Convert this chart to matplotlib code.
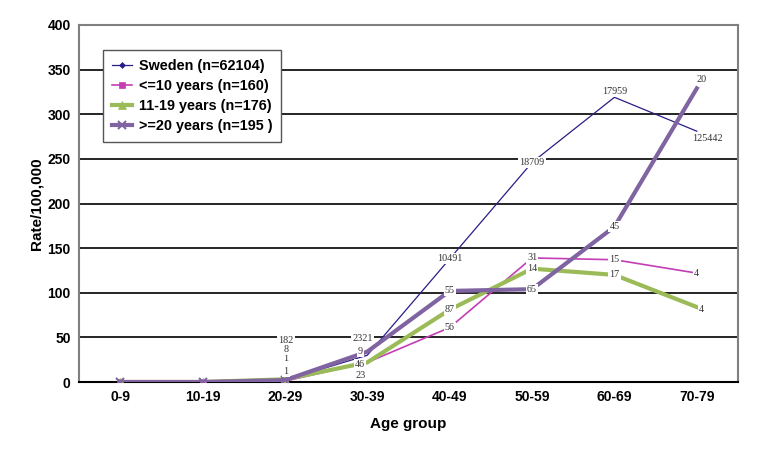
import matplotlib.pyplot as plt
import numpy as np

# Values (rate per 100,000)
age_groups = ['0-9', '10-19', '20-29', '30-39', '40-49', '50-59', '60-69', '70-79']

sweden = [0, 0, 2, 30, 138, 246, 319, 281]
le10 = [0, 0, 1, 22, 61, 139, 137, 122]
y11_19 = [0, 0, 3, 22, 81, 127, 120, 84]
ge20 = [0, 0, 2, 34, 102, 104, 174, 329]

sweden_labels = ['', '', '182', '2321', '10491', '18709', '17959', '125442']
le10_labels = ['', '', '1', '23', '56', '31', '15', '4']
y11_19_labels = ['', '', '1', '46', '87', '14', '17', '4']
ge20_labels = ['', '', '8', '9', '55', '65', '45', '20']

series_names = ['Sweden (n=62104)', '<=10 years (n=160)', '11-19 years (n=176)', '>=20 years (n=195 )']

plt.rcParams['font.family'] = ['Liberation Sans', 'DejaVu Sans']

fig = plt.figure(figsize=(7.84, 4.57), dpi=100)
ax = fig.add_axes([79 / 784, 75 / 457, 659 / 784, 357 / 457])

x = np.arange(len(age_groups))

# (values, labels, colour, linewidth, marker, markersize, label offsets in px)
styles = [
    (sweden, sweden_labels, '#2A1E86', 0.9, 'D', 3,
     [(0, 0), (0, 0), (1, 40), (-5, 17), (0, 0), (0, 0), (0, 6), (11, -7)]),
    (le10, le10_labels, '#C43DB5', 1.2, 's', 4,
     [(0, 0), (0, 0), (1, 10), (-7, -13), (0, 0), (0, 0), (0, 0), (0, 0)]),
    (y11_19, y11_19_labels, '#9BBB59', 3.0, '^', 6,
     [(0, 0), (0, 0), (1, 21), (-7, -2), (0, 0), (0, 0), (0, 0), (5, -2)]),
    (ge20, ge20_labels, '#8064A2', 3.0, 'x', 6,
     [(0, 0), (0, 0), (1, 31), (-7, 0), (0, 0), (0, 0), (0, 0), (5, 9)]),
]

for i, (vals, labels, color, lw, marker, ms, offsets) in enumerate(styles):
    ax.plot(x, vals, color=color, linewidth=lw, marker=marker, markersize=ms,
            markevery=[0, 1, 2], markeredgewidth=1.5 if marker == 'x' else 0.5,
            label=series_names[i], zorder=3 + i)
    for xi, v, text, off in zip(x, vals, labels, offsets):
        if not text:
            continue
        ax.annotate(text, (xi, v), xytext=off, textcoords='offset pixels',
                    ha='center', va='center', fontsize=7.3, family='Liberation Serif',
                    color='#333333', zorder=10,
                    bbox=dict(boxstyle='square,pad=0.1', facecolor='white', edgecolor='none'))

ax.set_xlim(-0.5, len(age_groups) - 0.5)
ax.set_ylim(0, 400)
ax.set_yticks(np.arange(0, 401, 50))
ax.set_xticks(x)
ax.set_xticklabels(age_groups)

for v in range(50, 400, 50):
    ax.axhline(v, color='black', linewidth=1.2, zorder=1)

for side in ['left', 'top', 'right']:
    ax.spines[side].set_color('#808080')
    ax.spines[side].set_linewidth(1.5)
ax.spines['bottom'].set_color('black')
ax.spines['bottom'].set_linewidth(1.5)

ax.tick_params(axis='both', length=0, labelsize=10, pad=6)
for lbl in ax.get_xticklabels() + ax.get_yticklabels():
    lbl.set_fontweight('bold')

ax.set_xlabel('Age group', fontsize=11, fontweight='bold', labelpad=9)
ax.set_ylabel('Rate/100,000', fontsize=11, fontweight='bold', labelpad=3)

leg = ax.legend(loc='upper left', bbox_to_anchor=(103 / 784, 1 - 50 / 457),
                bbox_transform=fig.transFigure, borderaxespad=0, fancybox=False,
                framealpha=1, edgecolor='#555555', prop={'weight': 'bold', 'size': 10.4},
                handlelength=1.4, handletextpad=0.5, labelspacing=0.42, borderpad=0.6)
leg.get_frame().set_linewidth(1.0)

fig.savefig('out.png', dpi=100)
